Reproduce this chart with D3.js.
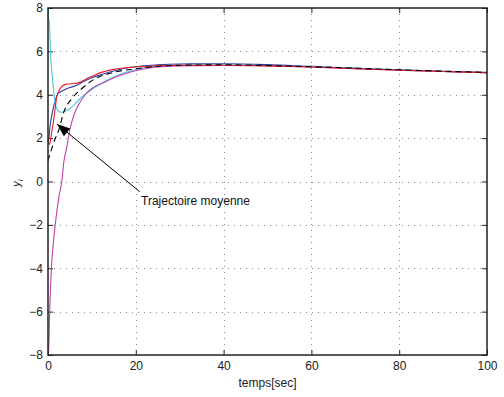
<!DOCTYPE html>
<html><head><meta charset="utf-8">
<script src="https://cdn.jsdelivr.net/npm/d3@7"></script>
<style>body{margin:0;background:#fff}svg{display:block}text{font-family:"Liberation Sans",Arial,sans-serif}</style>
</head><body><svg id="c" width="504" height="397"></svg>
<script>
// ---- data ----
const xTicks = [0, 20, 40, 60, 80, 100];
const yTicks = [-8, -6, -4, -2, 0, 2, 4, 6, 8];
const xLabel = "temps[sec]";
const annotation = "Trajectoire moyenne";

const cyanT = [0, 0.15, 0.3, 0.6, 1, 1.7, 2.3, 2.9, 4, 5.1, 7.4, 10.4, 14.3, 19.6, 24, 30, 40, 50, 60, 70, 80, 90, 100];
const cyanY = [8, 7.5, 7.4, 5.8, 4.8, 3.55, 3.25, 3.19, 3.25, 3.38, 3.84, 4.3, 4.76, 5.14, 5.3, 5.35, 5.37, 5.34, 5.29, 5.21, 5.14, 5.07, 5.02];

const redT = [0, 0.3, 0.8, 1.4, 2, 3, 4, 5, 6, 7, 8, 9, 10, 12, 15, 18, 24, 30, 40, 50, 60, 70, 80, 90, 100];
const redY = [2.0, 1.7, 2.2, 3.0, 3.9, 4.35, 4.48, 4.5, 4.52, 4.56, 4.65, 4.76, 4.85, 5.02, 5.17, 5.25, 5.33, 5.36, 5.36, 5.33, 5.28, 5.2, 5.13, 5.07, 5.02];

const blueT = [0, 0.2, 0.5, 1, 1.7, 2.1, 3, 4, 5, 6.7, 8, 9.7, 12, 14.3, 17, 20.4, 25, 30, 40, 50, 60, 70, 80, 90, 100];
const blueY = [1.9, 2.0, 2.6, 3.2, 3.76, 4.0, 4.15, 4.25, 4.33, 4.45, 4.6, 4.76, 4.92, 5.06, 5.2, 5.3, 5.38, 5.42, 5.43, 5.39, 5.31, 5.23, 5.15, 5.08, 5.02];

const magT = [0, 0.2, 0.4, 0.8, 1.2, 1.7, 2.5, 3.2, 3.6, 4.2, 5, 5.8, 7, 8.5, 10, 12, 16.5, 22, 25, 30, 40, 50, 60, 70, 80, 90, 100];
const magY = [-8, -7.5, -5.9, -3.9, -2.9, -1.9, -0.7, 0.1, 0.9, 1.5, 2.4, 3.0, 3.55, 4.0, 4.3, 4.5, 4.9, 5.2, 5.28, 5.33, 5.35, 5.33, 5.28, 5.2, 5.13, 5.07, 5.02];

const meanT = [0, 0.5, 1, 1.5, 2.5, 3.6, 5.5, 7.8, 10, 14.3, 20, 30, 40, 60, 80, 100];
const meanY = [0.95, 1.3, 1.6, 1.9, 2.4, 3.2, 3.84, 4.3, 4.65, 5.0, 5.2, 5.36, 5.38, 5.29, 5.15, 5.03];

const arrowFrom = [20.9, -0.47];  // data coords of annotation line start
const arrowTo = [2.05, 2.65];     // data coords of arrow tip

// ---- layout ----
const svg = d3.select("#c");
const L = 48, R = 487, T = 8, B = 355;
const x = d3.scaleLinear().domain([0, 100]).range([L, R]);
const y = d3.scaleLinear().domain([-8, 8]).range([B, T]);

// grid
const grid = svg.append("g").attr("stroke", "#8a8a8a").attr("stroke-width", 1).attr("stroke-dasharray", "1,5");
grid.selectAll(".gx").data(xTicks.slice(1, -1)).join("line")
  .attr("x1", d => Math.round(x(d)) + 0.5).attr("x2", d => Math.round(x(d)) + 0.5).attr("y1", T).attr("y2", B);
grid.selectAll(".gy").data(yTicks.slice(1, -1)).join("line")
  .attr("y1", d => Math.round(y(d)) + 0.5).attr("y2", d => Math.round(y(d)) + 0.5).attr("x1", L).attr("x2", R);

// axes
const xb = svg.append("g").attr("transform", `translate(0,${B})`)
  .call(d3.axisBottom(x).tickValues(xTicks).tickSize(-5).tickPadding(6).tickFormat(d3.format("d")));
const xt = svg.append("g").attr("transform", `translate(0,${T})`)
  .call(d3.axisTop(x).tickValues(xTicks).tickSize(-5).tickFormat(""));
const yl = svg.append("g").attr("transform", `translate(${L},0)`)
  .call(d3.axisLeft(y).tickValues(yTicks).tickSize(-5).tickPadding(5).tickFormat(d => d < 0 ? "\u2212" + Math.abs(d) : d));
const yr = svg.append("g").attr("transform", `translate(${R},0)`)
  .call(d3.axisRight(y).tickValues(yTicks).tickSize(-5).tickFormat(""));
[xb, xt, yl, yr].forEach(g => {
  g.select(".domain").remove();
  g.selectAll("line").attr("stroke", "#222");
  g.selectAll("text").attr("font-size", 12).attr("fill", "#222").attr("font-family", '"Liberation Sans",Arial,sans-serif');
});

// curves
const line = d3.line().x(d => x(d[0])).y(d => y(d[1])).curve(d3.curveMonotoneX);
const zip = (a, b) => a.map((v, i) => [v, b[i]]);
svg.append("clipPath").attr("id", "cp").append("rect").attr("x", L).attr("y", T - 1).attr("width", R - L).attr("height", B - T + 2);
const cg = svg.append("g").attr("clip-path", "url(#cp)").attr("fill", "none").attr("stroke-width", 1.1);
cg.append("path").attr("d", line(zip(blueT, blueY))).attr("stroke", "#2a3fa8");
cg.append("path").attr("d", line(zip(cyanT, cyanY))).attr("stroke", "#4cc8dc");
cg.append("path").attr("d", line(zip(magT, magY))).attr("stroke", "#c040b0");
cg.append("path").attr("d", line(zip(redT, redY))).attr("stroke", "#ee1c24");
cg.append("path").attr("d", line(zip(meanT, meanY))).attr("stroke", "#000").attr("stroke-dasharray", "6,4");

// frame
svg.append("rect").attr("x", L).attr("y", T).attr("width", R - L).attr("height", B - T)
  .attr("fill", "none").attr("stroke", "#222").attr("stroke-width", 1.5);

// labels
svg.append("text").attr("x", (L + R) / 2).attr("y", 387).attr("text-anchor", "middle")
  .attr("font-size", 12).attr("fill", "#222").text(xLabel);
const yt = svg.append("text").attr("transform", "translate(20,183) rotate(-90)").attr("text-anchor", "middle")
  .attr("font-family", '"DejaVu Serif","Liberation Serif",serif').attr("font-style", "italic").attr("font-size", 11).attr("fill", "#222");
yt.append("tspan").text("y");
yt.append("tspan").attr("font-size", 8).attr("dy", 3).text("i");

// annotation
const ax0 = x(arrowFrom[0]), ay0 = y(arrowFrom[1]), ax1 = x(arrowTo[0]), ay1 = y(arrowTo[1]);
svg.append("line").attr("x1", ax0).attr("y1", ay0).attr("x2", ax1).attr("y2", ay1).attr("stroke", "#000").attr("stroke-width", 1);
const ang = Math.atan2(ay1 - ay0, ax1 - ax0), hl = 13, hw = 5;
const bx = ax1 - hl * Math.cos(ang), by = ay1 - hl * Math.sin(ang);
svg.append("path").attr("d", `M${ax1},${ay1}L${bx + hw * Math.sin(ang)},${by - hw * Math.cos(ang)}L${bx - hw * Math.sin(ang)},${by + hw * Math.cos(ang)}Z`).attr("fill", "#000");
svg.append("text").attr("x", 141).attr("y", 205).attr("font-size", 12).attr("fill", "#111").text(annotation);
</script></body></html>
